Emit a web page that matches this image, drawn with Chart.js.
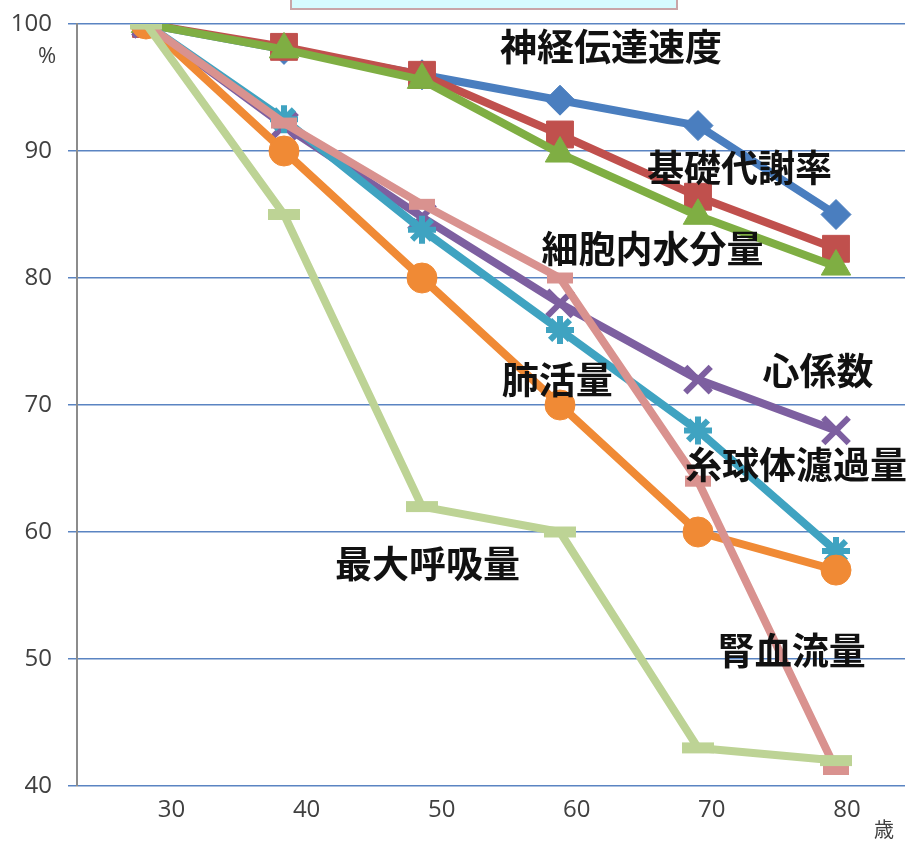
<!DOCTYPE html>
<html lang="ja">
<head>
<meta charset="utf-8">
<title>加齢による生理機能の低下</title>
<script src="https://cdn.jsdelivr.net/npm/chart.js@4/dist/chart.umd.min.js"></script>
<style>
    html, body { margin: 0; padding: 0; background: #fff; }
    #wrap { position: relative; width: 915px; height: 841px; overflow: hidden; }
    #chart { display: block; }
    /* 上端の見出し枠（画面外に切れている） */
    #titleBox {
        position: absolute; left: 290px; top: -20px; width: 384px; height: 26px;
        background: #d6fbff; border: 2px solid #c9a5a8;
    }
</style>
</head>
<body>
<div id="wrap">
    <canvas id="chart" width="915" height="841"></canvas>
    <div id="titleBox"></div>
</div>
<script>
// 年齢（歳）
const ages = ["30", "40", "50", "60", "70", "80"];
const ageTicks = [30, 40, 50, 60, 70, 80];

// 30歳を100%とした各機能の残存率
const nerveSpeed = [100, 98, 96, 94, 92, 85];          // 神経伝達速度
const basalMetabolism = [100, 98.2, 96, 91.3, 86.4, 82.3]; // 基礎代謝率
const cellWater = [100, 98, 95.6, 89.8, 84.9, 80.9];   // 細胞内水分量
const cardiacIndex = [100, 92, 84.8, 78, 72, 68];      // 心係数
const glomerularFiltration = [100, 92.5, 83.8, 75.9, 68, 58.5]; // 糸球体濾過量
const vitalCapacity = [100, 90, 80, 70, 60, 57];       // 肺活量
const renalBloodFlow = [100, 92.2, 85.8, 80, 64, 41.3]; // 腎血流量
const maxBreathing = [100, 85, 62, 60, 43, 42];        // 最大呼吸量

const yTicks = [40, 50, 60, 70, 80, 90, 100];

// グラフ内の注記（x はカテゴリ位置, y は%）
const noteText = ["神経伝達速度", "基礎代謝率", "細胞内水分量", "心係数", "肺活量", "糸球体濾過量", "最大呼吸量", "腎血流量"];
const noteX = [3.37, 4.30, 3.67, 4.87, 2.98, 4.71, 2.04, 4.68];
const noteY = [98.2, 88.7, 82.3, 72.7, 72.0, 65.3, 57.5, 50.6];

const tickColor = "#404040";
const tickFont = { family: "'Open Sans', 'Noto Sans', sans-serif", size: 24 };

function series(label, data, color, style, radius, order, extra) {
    return Object.assign({
        label: label,
        data: data,
        borderColor: color,
        backgroundColor: color,
        borderWidth: 8,
        borderJoinStyle: "round",
        borderCapStyle: "round",
        pointStyle: style,
        pointRadius: radius,
        pointHoverRadius: radius,
        pointBackgroundColor: color,
        pointBorderColor: color,
        pointBorderWidth: 1,
        tension: 0,
        fill: false,
        order: order,
    }, extra || {});
}

// 注記と単位の描画
const notePlugin = {
    id: "notes",
    afterDatasetsDraw(chart) {
        const ctx = chart.ctx;
        const xs = chart.scales.x;
        const ys = chart.scales.y;
        ctx.save();
        ctx.fillStyle = "#111";
        ctx.font = "bold 37px 'Noto Sans CJK JP', sans-serif";
        ctx.textAlign = "center";
        ctx.textBaseline = "middle";
        for (let i = 0; i < noteText.length; i++) {
            ctx.fillText(noteText[i], xs.getPixelForValue(noteX[i]), ys.getPixelForValue(noteY[i]));
        }
        // 単位
        ctx.fillStyle = tickColor;
        ctx.font = "22px 'Open Sans', 'Noto Sans CJK JP', sans-serif";
        ctx.fillText("%", 47, ys.getPixelForValue(100) + 33);
        ctx.font = "20px 'Noto Sans CJK JP', sans-serif";
        ctx.fillText("歳", chart.chartArea.right - 21, chart.chartArea.bottom + 43);
        ctx.restore();
    },
};

new Chart(document.getElementById("chart"), {
    type: "line",
    data: {
        labels: ages,
        datasets: [
            series("神経伝達速度", nerveSpeed, "#4a7ebf", "rectRot", 15, 8),
            series("基礎代謝率", basalMetabolism, "#c0504d", "rect", 19, 7),
            series("細胞内水分量", cellWater, "#7fae43", "triangle", 17, 6),
            series("心係数", cardiacIndex, "#7d5fa0", "crossRot", 18, 5, { pointBorderWidth: 6 }),
            series("糸球体濾過量", glomerularFiltration, "#3fa3c1", "star", 14, 4, { pointBorderWidth: 6 }),
            series("肺活量", vitalCapacity, "#f08a35", "circle", 15, 3),
            series("腎血流量", renalBloodFlow, "#d9928f", "line", 13, 2, { pointBorderWidth: 11 }),
            series("最大呼吸量", maxBreathing, "#bdd395", "line", 16, 1, { pointBorderWidth: 11 }),
        ],
    },
    options: {
        responsive: false,
        animation: false,
        devicePixelRatio: 1,
        events: [],
        layout: { autoPadding: false, padding: { top: 24, right: 10, left: 0, bottom: 0 } },
        plugins: {
            legend: { display: false },
            tooltip: { enabled: false },
        },
        scales: {
            // データ用のカテゴリ軸（目盛りは下の年齢軸で表示）
            x: {
                type: "category",
                offset: true,
                display: false,
            },
            // 年齢の目盛り表示用
            age: {
                type: "linear",
                position: "bottom",
                min: 23,
                max: 84.3,
                afterBuildTicks(scale) { scale.ticks = ageTicks.map(v => ({ value: v })); },
                grid: { display: false, drawTicks: false },
                border: { display: false },
                ticks: { color: tickColor, font: tickFont, padding: 10, maxRotation: 0 },
                afterFit(scale) {
                    scale.height = 55;
                    scale.paddingLeft = 0;
                    scale.paddingRight = 0;
                },
            },
            y: {
                min: 40,
                max: 100,
                afterBuildTicks(scale) { scale.ticks = yTicks.map(v => ({ value: v })); },
                ticks: { color: tickColor, font: tickFont, padding: 16 },
                grid: { color: "#5a84c2", lineWidth: 1.5, tickLength: 9 },
                border: { color: "#8c8c8c", width: 2 },
                afterFit(scale) {
                    scale.width = 77;
                    scale.paddingTop = 0;
                    scale.paddingBottom = 0;
                },
            },
        },
    },
    plugins: [notePlugin],
});
</script>
</body>
</html>
